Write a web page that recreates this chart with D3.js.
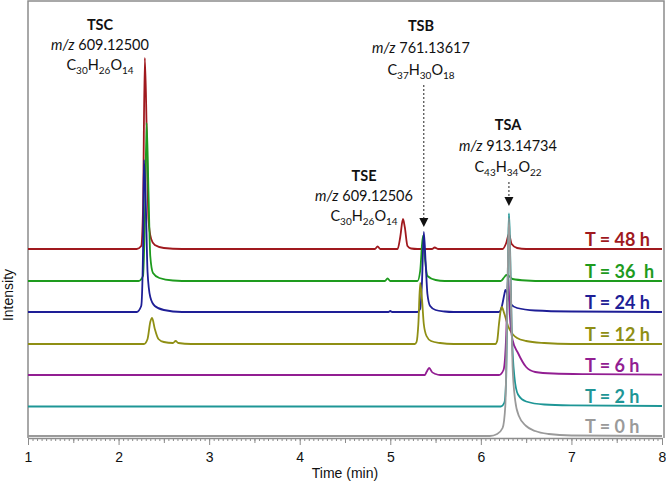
<!DOCTYPE html>
<html>
<head>
<meta charset="utf-8">
<script src="https://cdn.jsdelivr.net/npm/d3@7"></script>
<style>
  body { margin: 0; background: #fff; }
  svg { display: block; }
</style>
</head>
<body>
<div id="chart"></div>
<script>
// Traces, top to bottom. Each point is [time (min), height above the trace's own baseline]
const traceLabels = ["T = 48 h", "T = 36  h", "T = 24 h", "T = 12 h", "T = 6 h", "T = 2 h", "T = 0 h"];
const traceColors = ["#a0191e", "#1e9b1e", "#1e1e96", "#8f8f14", "#921e92", "#1e9696", "#9a9a9a"];
const traceOffsets = [189, 157, 126, 94, 63, 31.5, 2];

const t48 = [[1,0],[2.2,0],[2.25,3],[2.27,40],[2.29,191],[2.31,120],[2.33,30],[2.36,10],[2.4,4],[2.5,1],[2.7,0],
             [4.83,0],[4.86,2.5],[4.89,0],[5.08,0],[5.11,12],[5.14,30],[5.16,22],[5.19,3],[5.23,0.5],[5.3,0],
             [5.46,0],[5.49,1.5],[5.53,0],[6.24,0],[6.28,6],[6.31,15],[6.34,5],[6.4,1],[6.5,0],[8,0]];
const t36 = [[1,0],[2.22,0],[2.27,5],[2.29,60],[2.31,158],[2.33,90],[2.35,25],[2.38,8],[2.45,3],[2.6,0.5],[2.8,0],
             [4.94,0],[4.97,2.5],[5.0,0],[5.3,0],[5.33,10],[5.36,45],[5.38,25],[5.41,5],[5.5,1],[5.6,0],
             [6.22,0],[6.26,4],[6.28,6],[6.31,5],[6.35,2],[6.5,0.5],[6.7,0],[8,0]];
const t24 = [[1,0],[2.2,0],[2.25,6],[2.27,60],[2.28,152],[2.3,110],[2.32,40],[2.35,15],[2.4,6],[2.5,2],[2.7,0],
             [4.98,0],[5.0,1],[5.02,0],[5.3,0],[5.33,3],[5.35,30],[5.37,80],[5.39,50],[5.41,18],[5.44,6],[5.5,2],[5.6,0.5],[5.7,0],
             [6.2,0],[6.23,5],[6.26,18],[6.27,22],[6.3,16],[6.33,8],[6.4,4],[6.6,1.5],[7,0.5],[8,0]];
const t12 = [[1,0],[2.28,0],[2.32,5],[2.35,22],[2.37,26],[2.4,15],[2.44,5],[2.5,2],[2.6,1],[2.63,3],[2.66,1],[2.8,0],
             [5.27,0],[5.29,2],[5.31,20],[5.33,61],[5.35,45],[5.37,20],[5.4,8],[5.45,3],[5.55,1],[5.7,0],
             [6.16,0],[6.18,3],[6.2,20],[6.23,37],[6.26,30],[6.3,18],[6.35,10],[6.4,6],[6.5,3],[6.7,1],[7,0],[8,0]];
const t6  = [[1,0],[5.38,0],[5.4,3],[5.43,7],[5.46,3],[5.5,1],[5.55,0],
             [6.2,0],[6.25,5],[6.28,40],[6.3,100],[6.32,60],[6.35,35],[6.41,22],[6.5,8],[6.6,3],[6.8,1.5],[7.2,0.8],[8,0.3]];
const t2  = [[1,0],[6.22,0],[6.26,4],[6.28,30],[6.3,150],[6.31,193],[6.32,170],[6.34,80],[6.37,30],[6.41,12],
             [6.5,5],[6.7,2],[7,1.2],[8,0.5]];
const t0  = [[1,0],[6.1,0],[6.18,2],[6.24,8],[6.27,30],[6.29,120],[6.31,218],[6.33,150],[6.35,70],[6.38,35],[6.42,20],
             [6.5,10],[6.6,5],[6.75,2],[7,0.5],[8,0]];
const traces = [t48, t36, t24, t12, t6, t2, t0];

const xTicks = [1, 2, 3, 4, 5, 6, 7, 8];

// Peak annotations
const peakNames = ["TSC", "TSE", "TSB", "TSA"];
const peakMz = ["609.12500", "609.12506", "761.13617", "913.14734"];
const peakFormulas = [
  [["C","30"],["H","26"],["O","14"]],
  [["C","30"],["H","26"],["O","14"]],
  [["C","37"],["H","30"],["O","18"]],
  [["C","43"],["H","34"],["O","22"]]
];
const arrowTimes = [null, null, 5.37, 6.31];

const W = 666, H = 485;
const plot = {left: 28, right: 662, top: 1, bottom: 438};

const svg = d3.select("#chart")
              .append("svg")
              .attr("width", W)
              .attr("height", H);

const x = d3.scaleLinear()
            .domain([1, 8])
            .range([plot.left, plot.right]);

const y = d3.scaleLinear()
            .domain([0, plot.bottom - plot.top])
            .range([plot.bottom, plot.top]);

// frame
svg.append("path")
   .attr("d", `M${plot.left},${plot.bottom}V${plot.top}H${plot.right + 2}V${plot.bottom}`)
   .attr("fill", "none")
   .attr("stroke", "#8c8c8c")
   .attr("stroke-width", 1.5);

// minor + major ticks on the time axis
const minorTicks = d3.range(1, 8.0001, 0.05).map(v => +v.toFixed(2));
svg.append("g")
   .attr("transform", `translate(0,${plot.bottom})`)
   .call(d3.axisBottom(x).tickValues(minorTicks).tickSize(3).tickFormat(""))
   .call(g => g.select(".domain").remove())
   .selectAll("line").attr("stroke", "#8c8c8c");

svg.append("g")
   .attr("transform", `translate(0,${plot.bottom})`)
   .call(d3.axisBottom(x).tickValues(d3.range(1.5, 8, 1)).tickSize(5).tickFormat(""))
   .call(g => g.select(".domain").remove())
   .selectAll("line").attr("stroke", "#8c8c8c");

const xAxis = svg.append("g")
   .attr("transform", `translate(0,${plot.bottom})`)
   .call(d3.axisBottom(x).tickValues(xTicks).tickSize(7).tickSizeOuter(0).tickFormat(d3.format("d")));
xAxis.select(".domain").attr("stroke", "#8c8c8c").attr("stroke-width", 1.5);
xAxis.selectAll("line").attr("stroke", "#8c8c8c");
xAxis.selectAll("text")
     .attr("font-family", "'Liberation Sans', Arial, sans-serif")
     .attr("font-size", 14)
     .attr("fill", "#111")
     .attr("dy", "1.0em");

svg.append("text")
   .attr("x", (plot.left + plot.right) / 2)
   .attr("y", 478)
   .attr("text-anchor", "middle")
   .attr("font-family", "'Liberation Sans', Arial, sans-serif")
   .attr("font-size", 14)
   .attr("fill", "#111")
   .text("Time (min)");

svg.append("text")
   .attr("transform", "translate(13,295) rotate(-90)")
   .attr("text-anchor", "middle")
   .attr("font-family", "'Liberation Sans', Arial, sans-serif")
   .attr("font-size", 14)
   .attr("fill", "#111")
   .text("Intensity");

// traces
const line = d3.line()
               .x(d => x(d[0]))
               .y(d => y(d[1]))
               .curve(d3.curveMonotoneX);

traces.forEach((tr, i) => {
    svg.append("path")
       .datum(tr.map(p => [p[0], p[1] + traceOffsets[i]]))
       .attr("fill", "none")
       .attr("stroke", traceColors[i])
       .attr("stroke-width", 1.8)
       .attr("stroke-linejoin", "round")
       .attr("d", line);

    svg.append("text")
       .attr("x", 585)
       .attr("y", y(traceOffsets[i]) - 3.5)
       .attr("font-family", "Lato, 'Open Sans', sans-serif")
       .attr("font-weight", "bold")
       .attr("font-size", 18)
       .attr("fill", traceColors[i])
       .style("white-space", "pre")
       .text(traceLabels[i]);
});

// annotations: center x, first baseline y, line gap
const annoPos = [[100, 30, 20], [364, 181, 20], [421, 31, 22], [508, 130, 21]];
const annoFont = "Lato, 'Open Sans', sans-serif";

peakNames.forEach((name, i) => {
    const [cx, y0, gap] = annoPos[i];
    const g = svg.append("g")
                 .attr("font-family", annoFont)
                 .attr("font-size", 14.5)
                 .attr("fill", "#111")
                 .attr("text-anchor", "middle");

    g.append("text").attr("x", cx).attr("y", y0)
     .attr("font-weight", "bold").text(name);

    const mz = g.append("text").attr("x", cx).attr("y", y0 + gap);
    mz.append("tspan").attr("font-style", "italic").text("m/z");
    mz.append("tspan").text("\u00a0" + peakMz[i]);

    const f = g.append("text").attr("x", cx).attr("y", y0 + 2 * gap);
    peakFormulas[i].forEach(([el, n], k) => {
        f.append("tspan").attr("dy", k === 0 ? 0 : -4).text(el);
        f.append("tspan").attr("dy", 4).attr("font-size", 10).text(n);
    });

    if (arrowTimes[i] !== null) {
        const ax = x(arrowTimes[i]);
        const yTop = y0 + 2 * gap + 10;
        const yTip = i === 2 ? 227 : 206;
        svg.append("line")
           .attr("x1", ax).attr("x2", ax)
           .attr("y1", yTop).attr("y2", yTip - 8)
           .attr("stroke", "#222")
           .attr("stroke-width", 1)
           .attr("stroke-dasharray", "2,2");
        svg.append("path")
           .attr("d", `M${ax - 4.5},${yTip - 9}L${ax + 4.5},${yTip - 9}L${ax},${yTip}Z`)
           .attr("fill", "#111");
    }
});
</script>
</body>
</html>
